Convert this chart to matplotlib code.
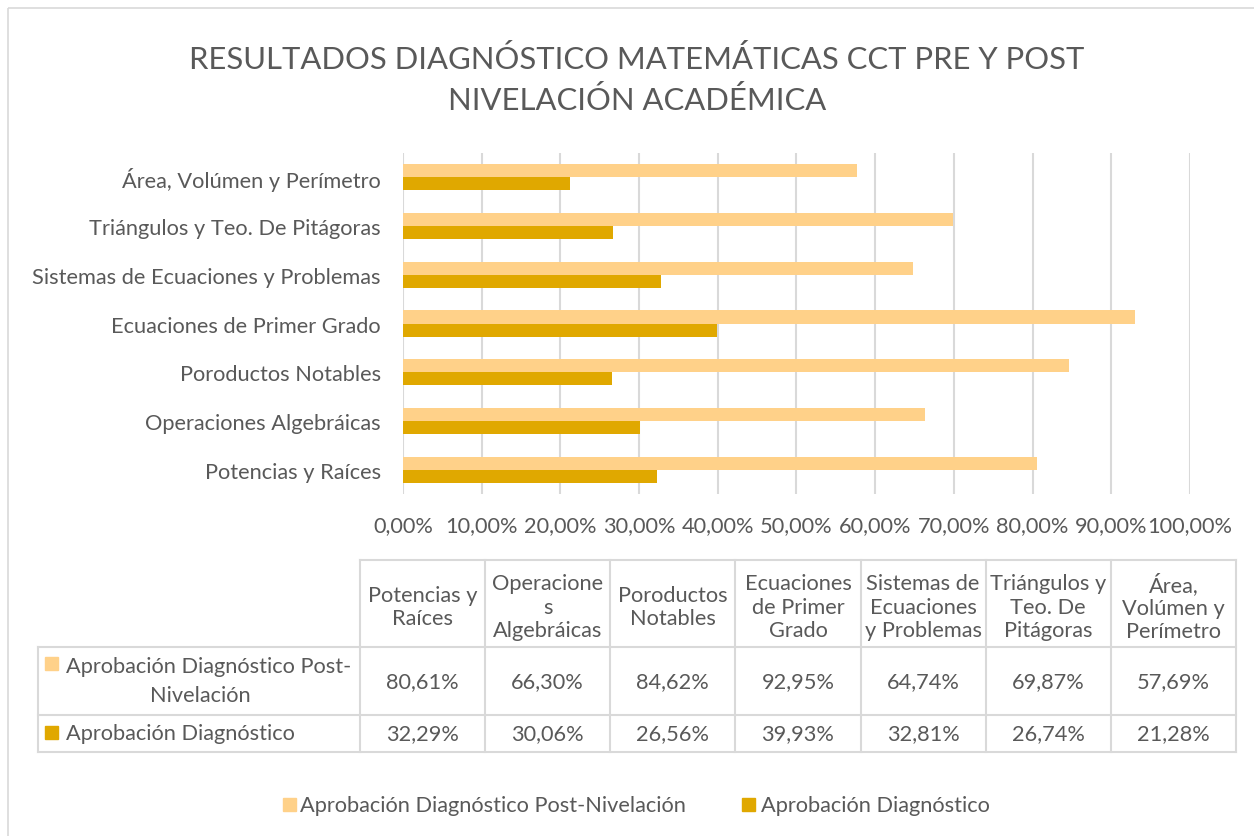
import matplotlib
matplotlib.use("Agg")
import matplotlib.pyplot as plt
from matplotlib.patches import Rectangle
from matplotlib.lines import Line2D

categories = ["Potencias y Raíces", "Operaciones Algebráicas", "Poroductos Notables",
              "Ecuaciones de Primer Grado", "Sistemas de Ecuaciones y Problemas",
              "Triángulos y Teo. De Pitágoras", "Área, Volúmen y Perímetro"]
table_headers = ["Potencias y\nRaíces", "Operacione\ns\nAlgebráicas", "Poroductos\nNotables",
                 "Ecuaciones\nde Primer\nGrado", "Sistemas de\nEcuaciones\ny Problemas",
                 "Triángulos y\nTeo. De\nPitágoras", "Área,\nVolúmen y\nPerímetro"]
post_values = [80.61, 66.30, 84.62, 92.95, 64.74, 69.87, 57.69]
pre_values = [32.29, 30.06, 26.56, 39.93, 32.81, 26.74, 21.28]
series_names = ["Aprobación Diagnóstico Post-Nivelación", "Aprobación Diagnóstico"]
x_ticks = [0, 10, 20, 30, 40, 50, 60, 70, 80, 90, 100]
title = "RESULTADOS DIAGNÓSTICO MATEMÁTICAS CCT PRE Y POST\nNIVELACIÓN ACADÉMICA"

LIGHT = "#FFD189"
DARK = "#E0A800"
TXT = "#595959"
GRID = "#D9D9D9"
FONT = "Lato"

W, H = 1254, 837
fig = plt.figure(figsize=(W / 100, H / 100), dpi=100)
fig.patch.set_facecolor("white")

# overlay axes in pixel coordinates
ov = fig.add_axes([0, 0, 1, 1])
ov.set_xlim(0, W)
ov.set_ylim(H, 0)
ov.axis("off")
ov.add_patch(Rectangle((8, 9), 1300, 900, fill=False, edgecolor="#D9D9D9", lw=1.2))

ov.text(637, 79.5, title, ha="center", va="center", fontsize=22.3, color=TXT,
        family=FONT, fontweight="normal", linespacing=1.5)

# bar chart
L, R, T, B = 403, 1190, 154, 495
ax = fig.add_axes([L / W, 1 - B / H, (R - L) / W, (B - T) / H])
n = len(categories)
ys = list(range(n))
bh = 0.267
ax.barh([y + bh / 2 for y in ys], post_values, height=bh, color=LIGHT, zorder=3)
ax.barh([y - bh / 2 for y in ys], pre_values, height=bh, color=DARK, zorder=3)
ax.set_xlim(0, 100)
ax.set_ylim(-0.5, n - 0.5)
ax.set_xticks(x_ticks)
ax.set_xticklabels([f"{v:.2f}%".replace(".", ",") for v in x_ticks])
ax.set_yticks(ys)
ax.set_yticklabels(categories)
ax.grid(axis="x", color=GRID, lw=1.5, zorder=0)
for s in ax.spines.values():
    s.set_visible(False)
fs = 15.7
ax.tick_params(axis="both", length=0, colors=TXT, labelsize=fs)
ax.tick_params(axis="x", pad=15)
ax.tick_params(axis="y", pad=16)
for lab in ax.get_xticklabels() + ax.get_yticklabels():
    lab.set_family(FONT)
    lab.set_color(TXT)

# data table
col_x = [360 + i * 125.14 for i in range(8)]
row_y = [561, 648, 716, 753]
lab_left = 38
lc = "#D9D9D9"
lw = 1.5
ov.add_line(Line2D([col_x[0], col_x[-1]], [row_y[0], row_y[0]], color=lc, lw=lw))
for yv in row_y[1:]:
    ov.add_line(Line2D([lab_left, col_x[-1]], [yv, yv], color=lc, lw=lw))
for xv in col_x:
    ov.add_line(Line2D([xv, xv], [row_y[0], row_y[-1]], color=lc, lw=lw))
ov.add_line(Line2D([lab_left, lab_left], [row_y[1], row_y[-1]], color=lc, lw=lw))

for i, hdr in enumerate(table_headers):
    cx = (col_x[i] + col_x[i + 1]) / 2
    ov.text(cx, (row_y[0] + row_y[1]) / 2 + 3, hdr, ha="center", va="center",
            fontsize=fs, color=TXT, family=FONT, linespacing=1.2)
for r, vals in enumerate([post_values, pre_values]):
    cy = (row_y[r + 1] + row_y[r + 2]) / 2
    for i, v in enumerate(vals):
        cx = (col_x[i] + col_x[i + 1]) / 2
        ov.text(cx, cy, f"{v:.2f}%".replace(".", ","), ha="center", va="center",
                fontsize=fs, color=TXT, family=FONT)

# row labels with keys
ov.add_patch(Rectangle((45, 658), 13, 13, color=LIGHT))
ov.text(66, 667, "Aprobación Diagnóstico Post-", ha="left", va="center",
        fontsize=fs, color=TXT, family=FONT)
ov.text(200, 696, "Nivelación", ha="center", va="center",
        fontsize=fs, color=TXT, family=FONT)
ov.add_patch(Rectangle((45, 727), 13, 13, color=DARK))
ov.text(66, 734, series_names[1], ha="left", va="center",
        fontsize=fs, color=TXT, family=FONT)

# legend
ov.add_patch(Rectangle((283, 799), 13, 13, color=LIGHT))
ov.text(300, 806, series_names[0], ha="left", va="center", fontsize=fs, color=TXT, family=FONT)
ov.add_patch(Rectangle((742, 799), 13, 13, color=DARK))
ov.text(761, 806, series_names[1], ha="left", va="center", fontsize=fs, color=TXT, family=FONT)

fig.savefig("out.png", dpi=100)
